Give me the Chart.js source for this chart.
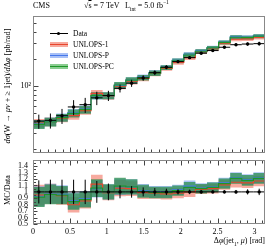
<!DOCTYPE html>
<html><head><meta charset="utf-8">
<script src="https://cdn.jsdelivr.net/npm/chart.js@4.4.1/dist/chart.umd.min.js"></script>
<style>
html,body{margin:0;padding:0;background:#fff;}
#wrap{position:relative;width:274px;height:248px;overflow:hidden;font-family:"Liberation Serif","DejaVu Serif",serif;color:#000;}
canvas{position:absolute;left:0;}
.t{position:absolute;white-space:nowrap;font-size:7.5px;line-height:8px;}
.sw{position:absolute;}
i{font-style:italic;}
sub,sup{font-size:5.5px;line-height:0;}
</style></head><body>
<div id="wrap">
<canvas id="main" width="274" height="160" style="top:0;width:274px;height:160px"></canvas>
<canvas id="ratio" width="274" height="98" style="top:150px;width:274px;height:98px"></canvas>

<div class="t" style="left:33px;top:2px;font-size:8px;">CMS</div>
<div class="t" style="left:84px;top:2px;font-size:8px;">√<span style="text-decoration:overline">s</span> = 7 TeV</div>
<div class="t" style="left:125px;top:2px;font-size:8px;">L<sub>int</sub> = 5.0 fb<sup>−1</sup></div>

<div class="sw" style="left:50px;top:33px;width:18px;height:1px;background:#000"></div>
<div class="sw" style="left:57px;top:32px;width:3px;height:3px;border-radius:50%;background:#000"></div>
<div class="t" style="left:73px;top:29.5px;">Data</div>

<div class="sw" style="left:50px;top:42px;width:18px;height:5px;background:rgba(240,110,90,0.6)"></div>
<div class="sw" style="left:50px;top:44px;width:18px;height:1.2px;background:rgb(232,70,45)"></div>
<div class="t" style="left:73px;top:40.5px;">UNLOPS-1</div>

<div class="sw" style="left:50px;top:53px;width:18px;height:5px;background:rgba(110,150,240,0.6)"></div>
<div class="sw" style="left:50px;top:55px;width:18px;height:1.2px;background:rgb(70,120,235)"></div>
<div class="t" style="left:73px;top:51.5px;">UNLOPS-P</div>

<div class="sw" style="left:50px;top:64px;width:18px;height:5px;background:rgba(60,170,70,0.6)"></div>
<div class="sw" style="left:50px;top:66px;width:18px;height:1.2px;background:rgb(30,150,40)"></div>
<div class="t" style="left:73px;top:62.5px;">UNLOPS-PC</div>

<div class="t" style="left:7.5px;top:86px;font-size:8.3px;transform:translate(-50%,-50%) rotate(-90deg);"><i>d</i><i>σ</i>(W → <i>μν</i> + ≥ 1jet)/<i>d</i>Δ<i>φ</i> [pb/rad]</div>
<div class="t" style="left:7.5px;top:190px;font-size:8px;transform:translate(-50%,-50%) rotate(-90deg);">MC/Data</div>
<div class="t" style="right:9px;top:237px;font-size:8px;">Δ<i>φ</i>(jet<sub>1</sub>, <i>μ</i>) [rad]</div>
</div>
<script>
Chart.defaults.font.family = '"Liberation Serif", "DejaVu Serif", serif';
Chart.defaults.color = '#000';

// ---- data ----
const binEdges = [0, 0.1571, 0.3142, 0.4712, 0.6283, 0.7854, 0.9425, 1.0996, 1.2566, 1.4137, 1.5708, 1.7279, 1.8850, 2.0420, 2.1991, 2.3562, 2.5133, 2.6704, 2.8274, 2.9845, 3.1416];
const dataVals = [40.9, 41.7, 46.9, 58.7, 62.2, 74.1, 78.5, 94.4, 107.8, 123, 141, 162, 187, 207, 232, 248, 270, 288, 293, 296];
const dataRelErr = [0.18, 0.19, 0.19, 0.19, 0.19, 0.17, 0.13, 0.10, 0.09, 0.07, 0.06, 0.05, 0.04, 0.035, 0.03, 0.025, 0.025, 0.03, 0.04, 0.05];
const unlops1Vals = [38.9, 40.4, 44.1, 47.0, 53.5, 83.0, 77.7, 100.1, 113.2, 121.8, 138.2, 157.1, 183.3, 207.0, 241.3, 260.4, 299.7, 331.2, 334.0, 346.3];
const unlopsPVals = [38.0, 40.4, 45.0, 50.5, 55.4, 77.8, 78.5, 102.0, 116.4, 125.5, 141.0, 162.0, 192.6, 225.6, 245.9, 267.8, 307.8, 351.4, 348.7, 361.1];
const unlopsPCVals = [37.6, 40.0, 44.6, 49.9, 54.7, 78.5, 78.5, 102.9, 116.4, 124.2, 139.6, 160.4, 190.7, 221.5, 243.6, 265.4, 305.1, 348.5, 345.7, 358.2];
const mainRelErr = [0.11, 0.11, 0.10, 0.10, 0.10, 0.09, 0.09, 0.08, 0.08, 0.07, 0.07, 0.06, 0.06, 0.06, 0.05, 0.05, 0.05, 0.05, 0.05, 0.05];
const unlops1Ratio = [0.95, 0.97, 0.94, 0.80, 0.86, 1.12, 0.99, 1.06, 1.05, 0.99, 0.98, 0.97, 0.98, 1.00, 1.04, 1.05, 1.11, 1.15, 1.14, 1.17];
const unlopsPRatio = [0.93, 0.97, 0.96, 0.86, 0.89, 1.05, 1.00, 1.08, 1.08, 1.02, 1.00, 1.00, 1.03, 1.09, 1.06, 1.08, 1.14, 1.22, 1.19, 1.22];
const unlopsPCRatio = [0.92, 0.96, 0.95, 0.85, 0.88, 1.06, 1.00, 1.09, 1.08, 1.01, 0.99, 0.99, 1.02, 1.07, 1.05, 1.07, 1.13, 1.21, 1.18, 1.21];
const ratioRelErr = [0.17, 0.16, 0.15, 0.15, 0.14, 0.13, 0.12, 0.12, 0.11, 0.10, 0.09, 0.09, 0.08, 0.08, 0.07, 0.07, 0.07, 0.07, 0.07, 0.07];
const xTickVals = [0, 0.5, 1, 1.5, 2, 2.5, 3];
const xTickLabels = ['0', '0.5', '1', '1.5', '2', '2.5', '3'];
const mainYTickVals = [100];
const mainYTickLabels = ['10²'];
const mainYMinor = [20, 30, 40, 50, 60, 70, 80, 90, 200, 300, 400, 500, 600];
const ratioTickVals = [0.5, 0.6, 0.7, 0.8, 0.9, 1.0, 1.1, 1.2, 1.3, 1.4];
const ratioTickLabels = ['0.5', '0.6', '0.7', '0.8', '0.9', '1', '1.1', '1.2', '1.3', '1.4'];

// ---- styles ----
const C1 = {line: 'rgb(232,70,45)', band: 'rgba(240,100,80,0.55)'};
const CP = {line: 'rgb(70,120,235)', band: 'rgba(100,145,240,0.55)'};
const CPC = {line: 'rgb(30,150,40)', band: 'rgba(35,140,65,0.7)'};

// ---- helpers ----
const centers = binEdges.slice(0, -1).map((e, i) => (e + binEdges[i + 1]) / 2);
function step(vals) {
  const pts = [];
  vals.forEach((v, i) => { pts.push({x: binEdges[i], y: v}); pts.push({x: binEdges[i + 1], y: v}); });
  return pts;
}
function hbars(vals) {
  const pts = [];
  vals.forEach((v, i) => { pts.push({x: binEdges[i], y: v}); pts.push({x: binEdges[i + 1], y: v}); pts.push({x: binEdges[i + 1], y: null}); });
  return pts;
}
function vbars(lo, hi) {
  const pts = [];
  lo.forEach((l, i) => { pts.push({x: centers[i], y: l}); pts.push({x: centers[i], y: hi[i]}); pts.push({x: centers[i], y: null}); });
  return pts;
}
function band(vals, err, color, order) {
  return [
    {data: step(vals.map((v, i) => v * (1 + err[i]))), borderWidth: 0, pointRadius: 0, fill: false, order},
    {data: step(vals.map((v, i) => v * (1 - err[i]))), borderWidth: 0, pointRadius: 0, fill: '-1', backgroundColor: color, order}
  ];
}
function mcLine(vals, color, order) {
  return {data: step(vals), borderColor: color, borderWidth: 1.2, pointRadius: 0, fill: false, order};
}
function dataSets(vals, relErr) {
  return [
    {data: vbars(vals.map((v, i) => v * (1 - relErr[i])), vals.map((v, i) => v * (1 + relErr[i]))), borderColor: '#000', borderWidth: 1, pointRadius: 0, fill: false, order: 2},
    {data: hbars(vals), borderColor: '#000', borderWidth: 1, pointRadius: 0, fill: false, order: 2},
    {data: vals.map((v, i) => ({x: centers[i], y: v})), showLine: false, pointRadius: 1.7, pointBackgroundColor: '#000', pointBorderWidth: 0, order: 1}
  ];
}
const xMinor = [];
for (let k = 1; k <= 31; k++) { if (k % 5) xMinor.push(k / 10); }
const ratioMinor = [0.55, 0.65, 0.75, 0.85, 0.95, 1.05, 1.15, 1.25, 1.35, 1.45];

const frameTicks = {
  id: 'frameTicks',
  afterDatasetsDraw(chart, args, o) {
    const {ctx, chartArea: a, scales} = chart;
    ctx.save();
    ctx.lineWidth = 1;
    ctx.strokeStyle = '#444';
    const L = Math.round(a.left) + 0.5, R = Math.round(a.right) - 0.5, T = Math.round(a.top) + 0.5, B = Math.round(a.bottom) - 0.5;
    function hx(v) { return Math.round(scales.x.getPixelForValue(v)) + 0.5; }
    function vy(v) { return Math.round(scales.y.getPixelForValue(v)) + 0.5; }
    ctx.beginPath();
    (o.left || []).forEach(([vals, len]) => vals.forEach(v => { const y = vy(v); ctx.moveTo(L, y); ctx.lineTo(L + len, y); }));
    (o.bottom || []).forEach(([vals, len]) => vals.forEach(v => { const x = hx(v); ctx.moveTo(x, B); ctx.lineTo(x, B - len); }));
    (o.top || []).forEach(([vals, len]) => vals.forEach(v => { const x = hx(v); ctx.moveTo(x, T); ctx.lineTo(x, T + len); }));
    ctx.stroke();
    ctx.strokeStyle = '#888';
    ctx.strokeRect(L, T, R - L, B - T);
    ctx.restore();
  }
};

const common = {
  responsive: false, animation: false, devicePixelRatio: 1,
  elements: {line: {tension: 0}},
  events: []
};

new Chart(document.getElementById('main'), {
  type: 'line',
  data: {datasets: [
    ...band(unlops1Vals, mainRelErr, C1.band, 30),
    ...band(unlopsPVals, mainRelErr, CP.band, 29),
    ...band(unlopsPCVals, mainRelErr, CPC.band, 28),
    mcLine(unlops1Vals, C1.line, 12),
    mcLine(unlopsPVals, CP.line, 11),
    mcLine(unlopsPCVals, CPC.line, 10),
    ...dataSets(dataVals, dataRelErr)
  ]},
  options: {
    ...common,
    layout: {padding: {left: 0, right: 9, top: 16, bottom: 5}},
    plugins: {legend: {display: false}, tooltip: {enabled: false},
      frameTicks: {left: [[mainYTickVals, 5], [mainYMinor, 3]], bottom: [[xTickVals, 5], [xMinor, 3]]}},
    scales: {
      x: {type: 'linear', min: 0, max: Math.PI, display: false},
      y: {type: 'logarithmic', min: 18, max: 600,
        afterFit(s) { s.width = 33; },
        afterBuildTicks(s) { s.ticks = mainYTickVals.map(v => ({value: v})); },
        grid: {display: false, drawTicks: false}, border: {display: false},
        ticks: {autoSkip: false, padding: 2, font: {size: 8}, color: '#000', callback: (v, i) => mainYTickLabels[i]}}
    }
  },
  plugins: [frameTicks]
});

const dataRatio = dataVals.map(v => v / v);
new Chart(document.getElementById('ratio'), {
  type: 'line',
  data: {datasets: [
    ...band(unlops1Ratio, ratioRelErr, C1.band, 30),
    ...band(unlopsPRatio, ratioRelErr, CP.band, 29),
    ...band(unlopsPCRatio, ratioRelErr, CPC.band, 28),
    mcLine(unlops1Ratio, C1.line, 12),
    mcLine(unlopsPRatio, CP.line, 11),
    mcLine(unlopsPCRatio, CPC.line, 10),
    ...dataSets(dataRatio, dataRelErr)
  ]},
  options: {
    ...common,
    layout: {padding: {left: 0, right: 9, top: 5, bottom: 0}},
    plugins: {legend: {display: false}, tooltip: {enabled: false},
      frameTicks: {left: [[ratioTickVals, 4], [ratioMinor, 2.5]], bottom: [[xTickVals, 5], [xMinor, 3]], top: [[xTickVals, 5], [xMinor, 3]]}},
    scales: {
      x: {type: 'linear', min: 0, max: Math.PI,
        afterFit(s) { s.height = 24; },
        afterBuildTicks(s) { s.ticks = xTickVals.map(v => ({value: v})); },
        grid: {display: false, drawTicks: false}, border: {display: false},
        ticks: {autoSkip: false, maxRotation: 0, padding: 3, font: {size: 8}, color: '#000', callback: (v, i) => xTickLabels[i]}},
      y: {type: 'linear', min: 0.5, max: 1.5,
        afterFit(s) { s.width = 33; },
        afterBuildTicks(s) { s.ticks = ratioTickVals.map(v => ({value: v})); },
        grid: {display: false, drawTicks: false}, border: {display: false},
        ticks: {autoSkip: false, padding: 5, font: {size: 8}, color: '#000', callback: (v, i) => ratioTickLabels[i]}}
    }
  },
  plugins: [frameTicks]
});
</script>
</body></html>
